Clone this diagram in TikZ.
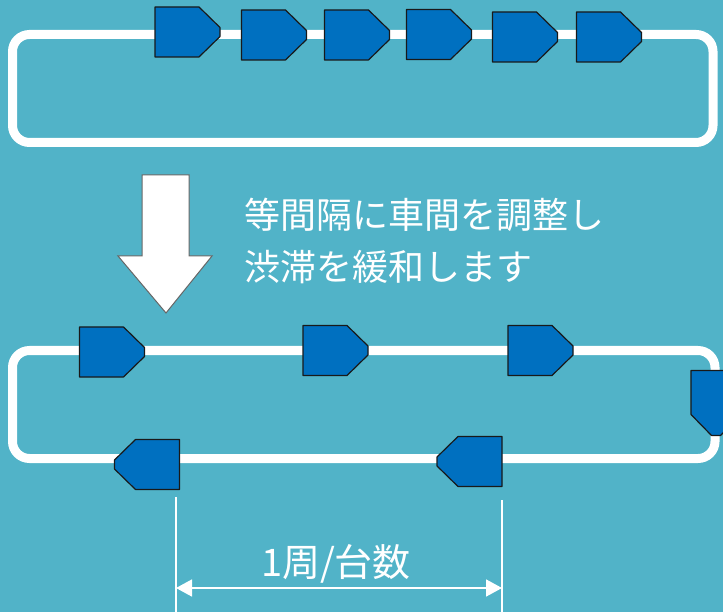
\documentclass[tikz,border=0pt]{standalone}
\usepackage{fontspec}
\newfontfamily\jp{Noto Sans CJK JP}
\usepackage{tikz}
\usetikzlibrary{arrows.meta}
\definecolor{bgteal}{RGB}{81,179,200}
\definecolor{carblue}{RGB}{0,112,192}
\tikzset{
	road/.style={draw=white,line width=9pt,rounded corners=17pt},
	car/.pic={
		\draw[fill=carblue,draw=black!90,line width=1.2pt,line join=round]
			(-32.5,-25) -- (11.5,-25) -- (32.5,-4.5) -- (32.5,4.5) -- (11.5,25) -- (-32.5,25) -- cycle;
	},
	label/.style={text=white,inner sep=0pt,font=\jp\fontsize{36}{42}\selectfont},
	dim/.style={draw=white,line width=1.6pt}
}

\begin{document}
\begin{tikzpicture}[x=1pt,y=-1pt]
	\fill[bgteal] (0,0) rectangle (723,612);
	\useasboundingbox (0,0) rectangle (723,612);
	% roads
	\draw[road] (12.5,34.5) rectangle (713,142.5);
	\draw[road] (12.5,350.5) rectangle (715,458.5);
	% before: bunched up cars
	\foreach \x/\y in {187.5/32,274/35,357/35,439/34.5,525/37,609/37}{
		\pic at (\x,\y) {car};
	}
	% big arrow
	\draw[fill=white,draw=black!60,line width=1pt]
		(142,175) -- (189,175) -- (189,256) -- (212,256) -- (166,313) -- (118,256) -- (142,256) -- cycle;
	\node[label,anchor=base west] (line1) at (244,229) {等間隔に車間を調整し};
	\node[label,anchor=base west] (line2) at (244,281) {渋滞を緩和します};
	% after: evenly spaced cars
	\foreach \x/\y in {112/352,335.5/350.5,540.5/350.5}{
		\pic at (\x,\y) {car};
	}
	\pic[rotate=-90] at (716,403) {car};
	\foreach \x/\y in {147/464.5,469.5/461.5}{
		\pic[rotate=180] at (\x,\y) {car};
	}
	% spacing
	\coordinate (gapL) at (176,497);
	\coordinate (gapR) at (502,500);
	\draw[dim] (gapL) -- (176,612);
	\draw[dim] (gapR) -- (502,612);
	\coordinate (arrL) at (176,588);
	\coordinate (arrR) at (502,588);
	\draw[dim,{Triangle[length=16pt,width=17pt]}-{Triangle[length=16pt,width=17pt]}] (arrL) -- (arrR);
	\node[label,anchor=base,font=\jp\fontsize{38}{42}\selectfont] (gap) at (336,576) {1周/台数};
\end{tikzpicture}
\end{document}
